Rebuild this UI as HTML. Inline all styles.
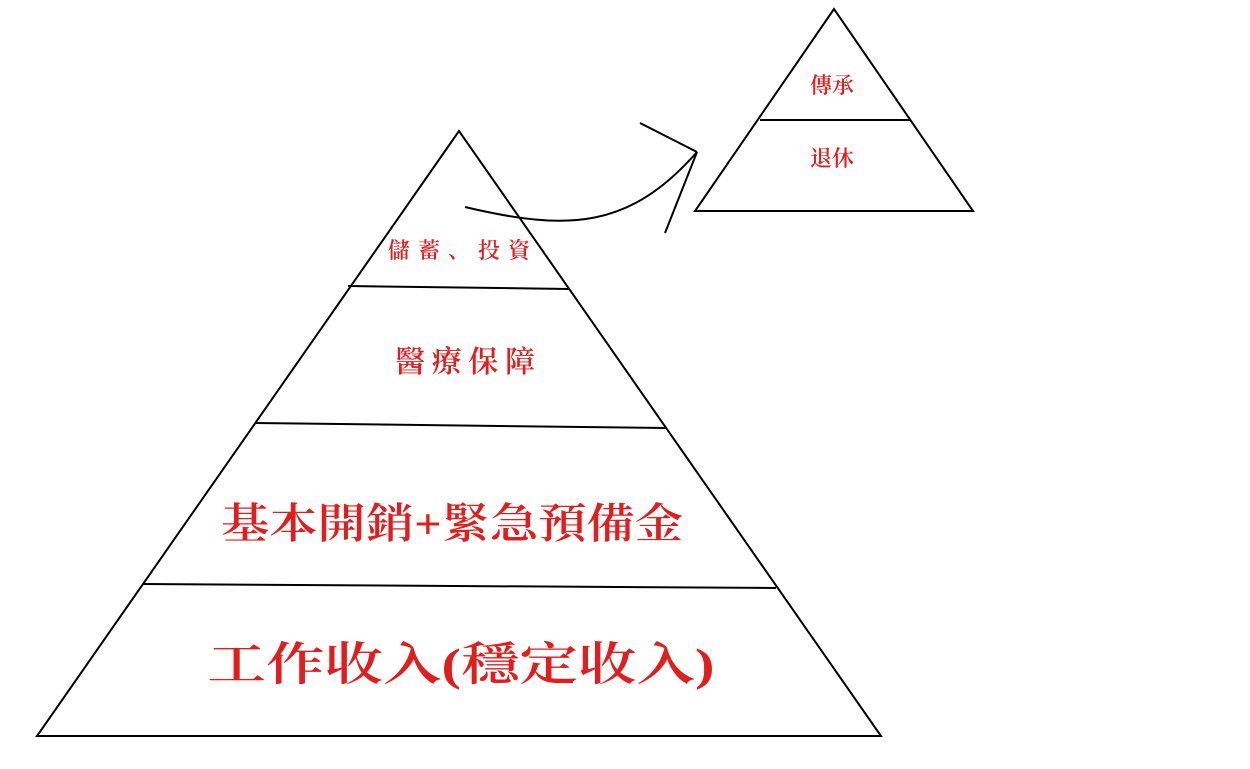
<!DOCTYPE html>
<html><head><meta charset="utf-8"><style>html,body{margin:0;padding:0;background:#fff}svg{display:block}</style></head>
<body>
<svg width="1250" height="769" viewBox="0 0 1250 769" xmlns="http://www.w3.org/2000/svg">
<rect width="1250" height="769" fill="#fff"/>
<g stroke="#000" stroke-width="2" fill="none">
<polygon points="459,131 37,736 881,736"/>
<line x1="348" y1="286" x2="569" y2="289"/>
<line x1="256" y1="423" x2="666" y2="428"/>
<line x1="143" y1="584" x2="776" y2="588"/>
<polygon points="834,9 695,211 973,211"/>
<line x1="760" y1="120" x2="910" y2="120"/>
<path d="M465,207 C570,232 630,228 697,152"/>
<line x1="640" y1="123" x2="697" y2="152"/>
<line x1="697" y1="152" x2="665" y2="233"/>
</g>
<g fill="#e21d1d" font-family="'Liberation Serif','Noto Serif CJK SC',serif" font-weight="600" text-anchor="middle">
<text x="459" y="258" font-size="22" textLength="142">儲蓄、投資</text>
<text x="465" y="372" font-size="30" textLength="140">醫療保障</text>
<text x="452" y="538" font-size="42" textLength="462" lengthAdjust="spacingAndGlyphs">基本開銷+緊急預備金</text>
<text x="461" y="680" font-size="46" textLength="507" lengthAdjust="spacingAndGlyphs">工作收入(穩定收入)</text>
<text x="832" y="93" font-size="22">傳承</text>
<text x="832" y="166" font-size="22">退休</text>
</g>
</svg>
</body></html>
